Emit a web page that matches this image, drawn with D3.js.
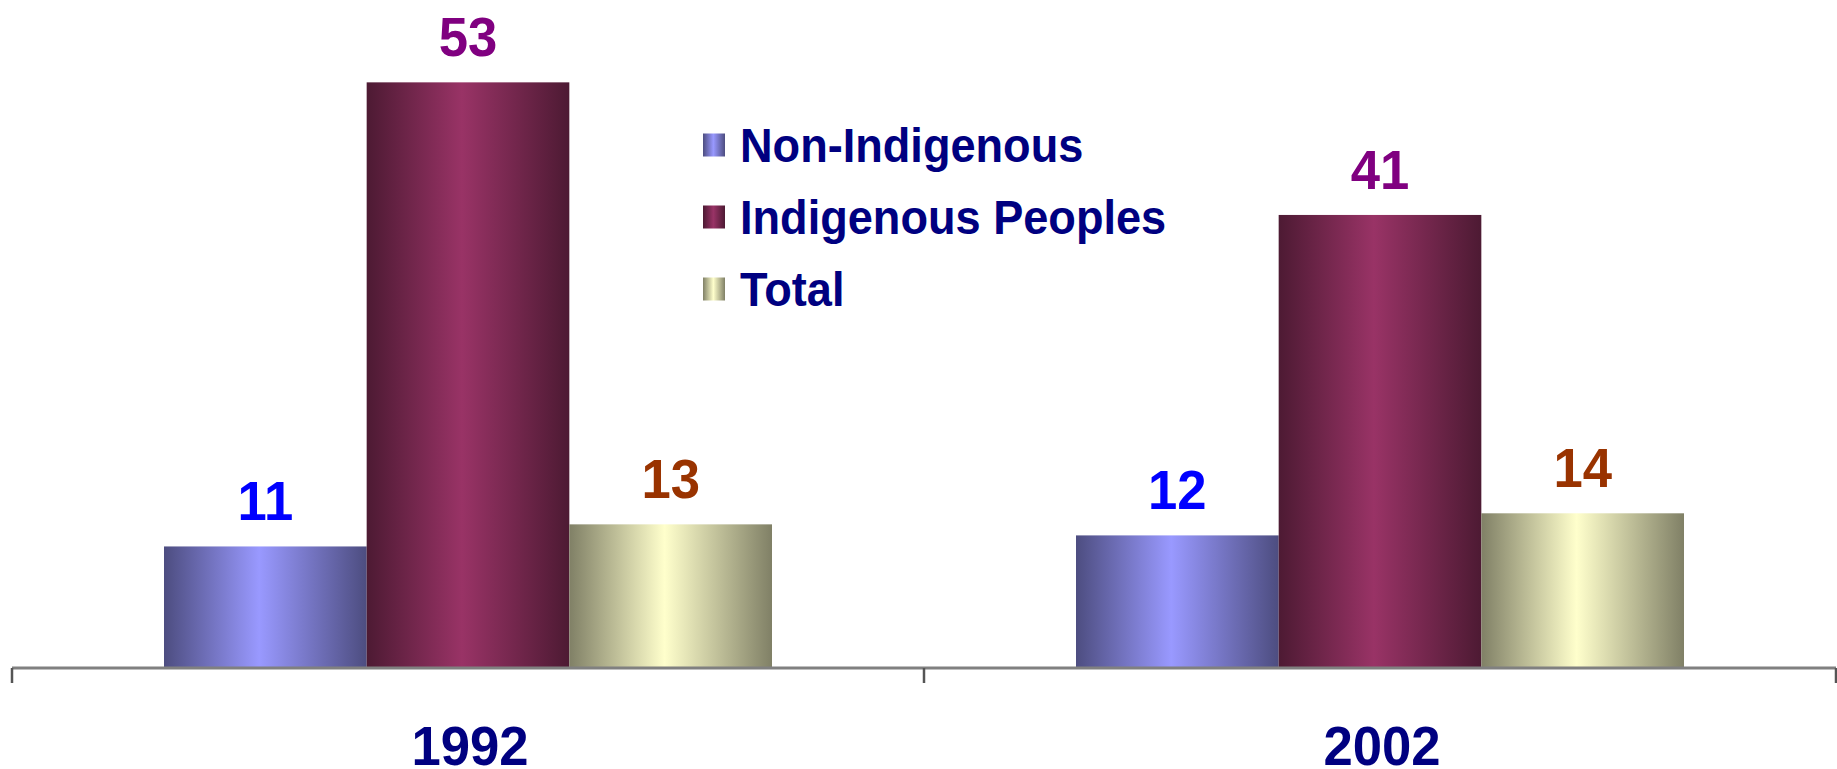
<!DOCTYPE html>
<html>
<head>
<meta charset="utf-8">
<script src="https://d3js.org/d3.v7.min.js"></script>
<style>
body { margin: 0; background: #fff; }
text { font-family: "Liberation Sans", Arial, sans-serif; font-weight: bold; }
</style>
</head>
<body>
<script>
var years = ["1992", "2002"];
var series = ["Non-Indigenous", "Indigenous Peoples", "Total"];
var nonIndigenous = [11, 12];
var indigenous = [53, 41];
var total = [13, 14];

var barColors = ["#9999FF", "#993366", "#FFFFCC"];
var labelColors = ["#0000FF", "#800080", "#993300"];

var width = 1837,
	height = 769,
	baseY = 668;

var values = [nonIndigenous, indigenous, total];

var svg = d3.select("body")
			.append("svg")
			.attr("width", width)
			.attr("height", height);

// shaded bar fills, dark edges and a light middle
var defs = svg.append("defs");
barColors.forEach(function(c, i) {
	var dark = d3.interpolateRgb(c, "#000")(0.5);
	var g = defs.append("linearGradient")
		.attr("id", "grad" + i)
		.attr("x1", "0").attr("x2", "1").attr("y1", "0").attr("y2", "0");
	g.append("stop").attr("offset", "0").attr("stop-color", dark);
	g.append("stop").attr("offset", "0.47").attr("stop-color", c);
	g.append("stop").attr("offset", "1").attr("stop-color", dark);
});

var x0 = d3.scaleBand()
		.domain(years)
		.range([12, 1836]);
var x1 = d3.scaleBand()
		.domain(series)
		.range([0, x0.bandwidth()])
		.paddingInner(0)
		.paddingOuter(0.75);
var y = d3.scaleLinear()
		.domain([0, 60])
		.range([baseY, 5]);

var rows = [];
years.forEach(function(yr, j) {
	series.forEach(function(s, i) {
		rows.push({year: yr, s: s, i: i, v: values[i][j]});
	});
});

svg.append("g")
	.selectAll("rect")
	.data(rows)
	.enter()
	.append("rect")
		.attr("x", function(d) { return x0(d.year) + x1(d.s); })
		.attr("y", function(d) { return y(d.v); })
		.attr("width", x1.bandwidth())
		.attr("height", function(d) { return baseY - y(d.v); })
		.attr("fill", function(d) { return "url(#grad" + d.i + ")"; });

// value labels
svg.append("g")
	.selectAll("text")
	.data(rows)
	.enter()
	.append("text")
		.attr("transform", function(d) {
			return "translate(" + (x0(d.year) + x1(d.s) + x1.bandwidth() / 2) + "," + (y(d.v) - 26) + ") scale(0.94,1)";
		})
		.attr("text-anchor", "middle")
		.attr("font-size", 56)
		.attr("fill", function(d) { return labelColors[d.i]; })
		.text(function(d) { return d.v; });

// axis line with ticks between categories
svg.append("line")
	.attr("x1", x0.range()[0]).attr("x2", x0.range()[1])
	.attr("y1", baseY).attr("y2", baseY)
	.attr("stroke", "#808080")
	.attr("stroke-width", 3);

var tickPos = years.map(function(d) { return x0(d); }).concat([x0.range()[1]]);
svg.append("g")
	.selectAll("line")
	.data(tickPos)
	.enter()
	.append("line")
		.attr("x1", function(d) { return d; })
		.attr("x2", function(d) { return d; })
		.attr("y1", baseY)
		.attr("y2", baseY + 15)
		.attr("stroke", "#555")
		.attr("stroke-width", 2.5);

svg.append("g")
	.selectAll("text")
	.data(years)
	.enter()
	.append("text")
		.attr("transform", function(d) {
			return "translate(" + (x0(d) + x0.bandwidth() / 2 + 2) + ",765) scale(0.94,1)";
		})
		.attr("text-anchor", "middle")
		.attr("font-size", 56)
		.attr("fill", "#000080")
		.text(function(d) { return d; });

// legend
var legend = svg.append("g")
	.selectAll("g")
	.data(series)
	.enter()
	.append("g")
		.attr("transform", function(d, i) { return "translate(703," + (145 + i * 72) + ")"; });

legend.append("rect")
	.attr("x", 0)
	.attr("y", -11.5)
	.attr("width", 22)
	.attr("height", 23)
	.attr("fill", function(d, i) { return "url(#grad" + i + ")"; });

legend.append("text")
	.attr("transform", "translate(37,17) scale(0.94,1)")
	.attr("font-size", 48)
	.attr("fill", "#000080")
	.text(function(d) { return d; });
</script>
</body>
</html>
